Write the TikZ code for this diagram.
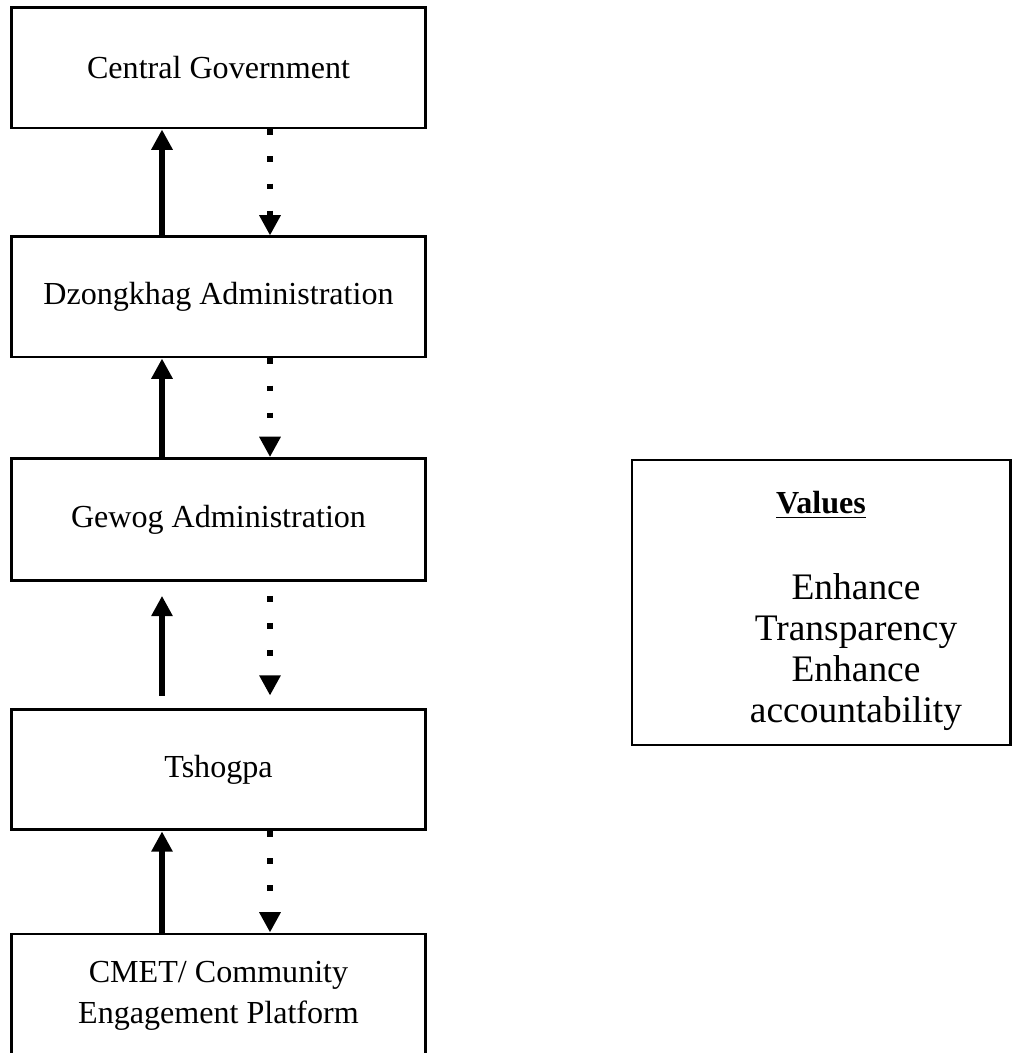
\documentclass[tikz,border=0pt]{standalone}
\usepackage{fontspec}
\setmainfont{Liberation Serif}
\usetikzlibrary{arrows.meta}
\begin{document}
\begin{tikzpicture}[x=0.374pt,y=-0.374pt,
  box/.style={draw,line width=1.1pt,minimum width=154.5pt,inner sep=0pt,align=center,font=\fontsize{12}{15.5}\selectfont},
  uparrow/.style={line width=2.2pt,-{Triangle[width=7.6pt,length=7.6pt]}},
  downarrow/.style={line width=2.2pt,line cap=butt,dash pattern=on 2.2pt off 7.9pt,-{Triangle[width=7.6pt,length=7.6pt]}}]
\useasboundingbox (0,0) rectangle (1014,1053);
\clip (0,0) rectangle (1014,1053);
\node[box,minimum height=44.9pt] (cg) at (218.5,68) {Central Government};
\node[box,minimum height=44.9pt] (dz) at (218.5,297) {Dzongkhag Administration};
\node[box,minimum height=45.6pt] (gw) at (218.5,519.5) {Gewog Administration};
\node[box,minimum height=45.2pt] (ts) at (218.5,769.5) {Tshogpa};
\node[box,minimum height=46.4pt] (cm) at (218.5,996) {CMET/ Community\\Engagement Platform};
\coordinate (sx) at (162,0);
\coordinate (dx) at (270,0);
\draw[uparrow] (dz.north -| sx) -- (cg.south -| sx);
\draw[downarrow] (cg.south -| dx) -- (dz.north -| dx);
\draw[uparrow] (gw.north -| sx) -- (dz.south -| sx);
\draw[downarrow] (dz.south -| dx) -- (gw.north -| dx);
\draw[uparrow,shorten <=4.5pt,shorten >=5.2pt] (ts.north -| sx) -- (gw.south -| sx);
\draw[downarrow,shorten <=5.2pt,shorten >=4.5pt] (gw.south -| dx) -- (ts.north -| dx);
\draw[uparrow] (cm.north -| sx) -- (ts.south -| sx);
\draw[downarrow] (ts.south -| dx) -- (cm.north -| dx);
\node[draw,line width=1.1pt,minimum width=141.4pt,minimum height=106.6pt,inner sep=0pt] (vb) at (821,602.5) {};
\node[font=\fontsize{12}{14}\selectfont\bfseries,inner sep=0pt] (vt) at (821,505) {\underline{Values}};
\node[font=\fontsize{14}{15.3}\selectfont,align=center,inner sep=0pt] (vl) at (856,652) {Enhance\\Transparency\\Enhance\\accountability};
\end{tikzpicture}
\end{document}
